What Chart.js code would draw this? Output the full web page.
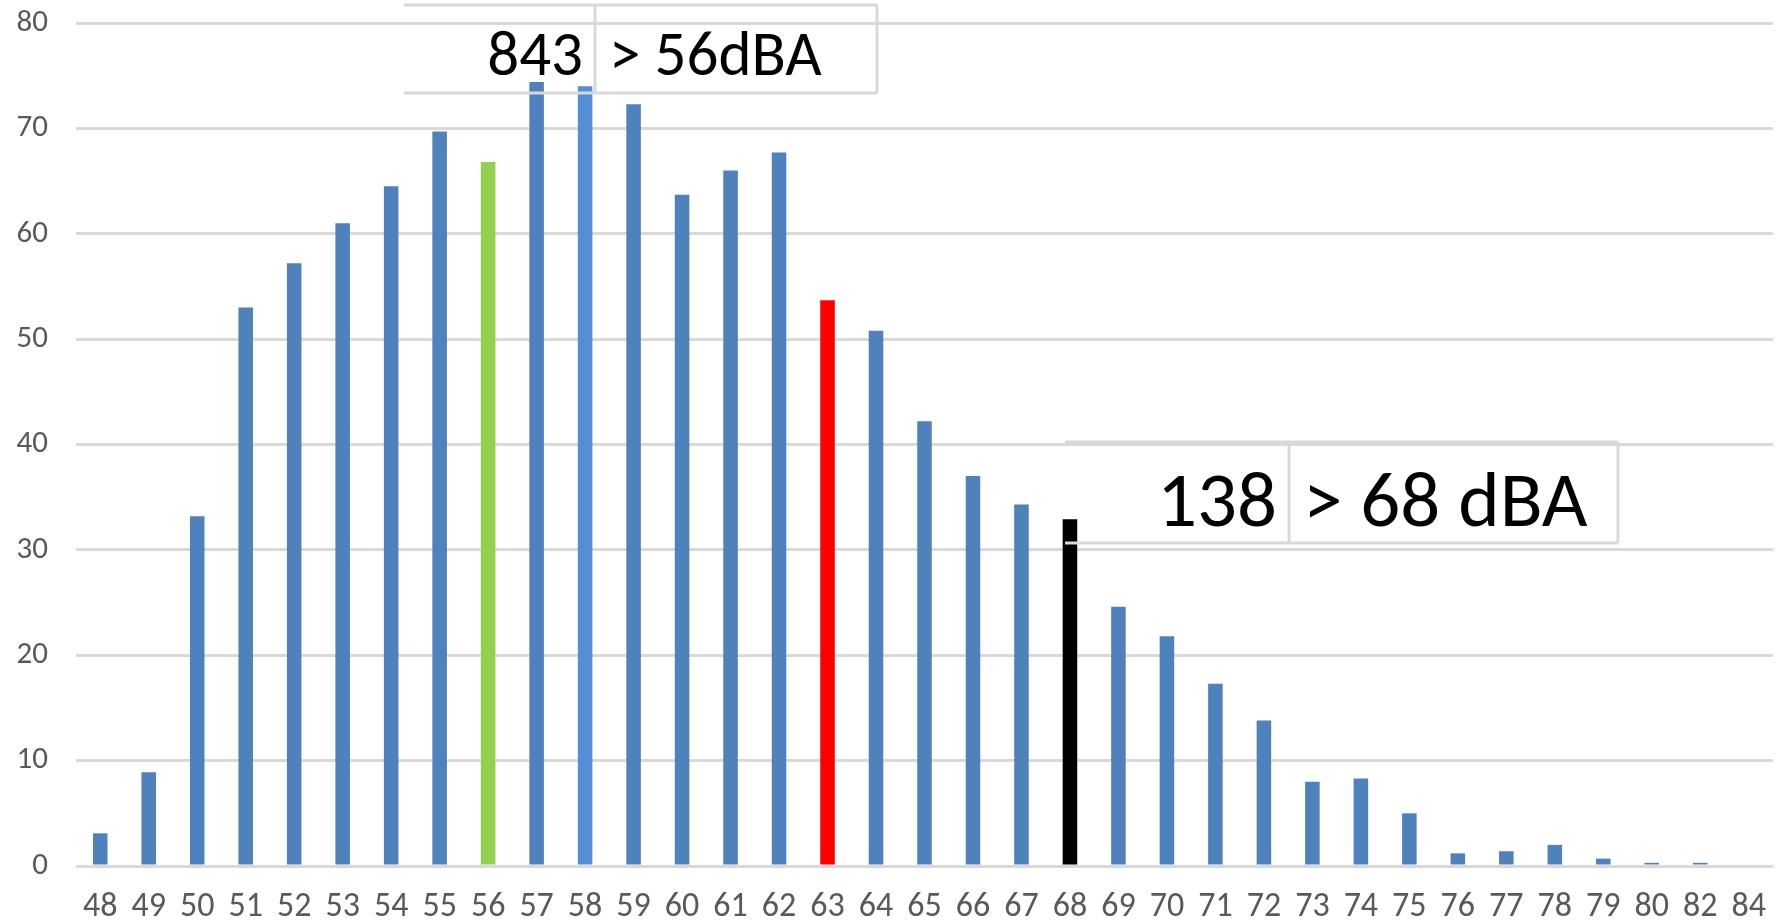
<!DOCTYPE html>
<html>
<head>
<meta charset="utf-8">
<script src="https://cdn.jsdelivr.net/npm/chart.js@4/dist/chart.umd.min.js"></script>
<style>
  html, body { margin: 0; padding: 0; background: #fff; }
  #wrap { width: 1783px; height: 922px; position: relative; }
</style>
</head>
<body>
<div id="wrap"><canvas id="grafico"></canvas></div>
<script>
// Níveis sonoros (dBA) e contagens
const categorias = ['48','49','50','51','52','53','54','55','56','57','58','59','60','61','62','63','64','65','66','67','68','69','70','71','72','73','74','75','76','77','78','79','80','82','84'];
const contagens = [3.1, 8.9, 33.2, 53.0, 57.2, 61.0, 64.5, 69.7, 66.8, 74.4, 74.0, 72.3, 63.7, 66.0, 67.7, 53.7, 50.8, 42.2, 37.0, 34.3, 32.9, 24.6, 21.8, 17.3, 13.8, 8.0, 8.3, 5.0, 1.2, 1.4, 2.0, 0.7, 0.3, 0.3, 0];
const ticksY = [0, 10, 20, 30, 40, 50, 60, 70, 80];

// Caixas de texto (total acima do limite)
const totais = ['843', '138'];
const limites = ['> 56dBA', '> 68 dBA'];

// Cores das barras em destaque
const corBase = '#4F81BD';
const destaques = { '56': '#92D050', '58': '#558ED5', '63': '#FF0000', '68': '#000000' };

const fonteTexto = '"Carlito", "Open Sans", sans-serif';

// Desenha as duas caixas tipo célula por cima do gráfico
const caixasPlugin = {
  id: 'caixas',
  afterDraw(chart) {
    const ctx = chart.ctx;
    const geo = [
      { l: 404, d: 595, r: 877, t: 5, b: 93, base: 75, size: 63, gap: 14 },
      { l: 1065, d: 1289, r: 1618, t: 442, b: 543, base: 526, size: 79, gap: 14 }
    ];
    ctx.save();
    geo.forEach((g, i) => {
      ctx.strokeStyle = '#D9D9D9';
      ctx.lineWidth = 3;
      ctx.beginPath();
      ctx.moveTo(g.l, g.t); ctx.lineTo(g.r, g.t);
      ctx.moveTo(g.l, g.b); ctx.lineTo(g.r, g.b);
      ctx.moveTo(g.d, g.t); ctx.lineTo(g.d, g.b);
      ctx.moveTo(g.r, g.t); ctx.lineTo(g.r, g.b);
      ctx.stroke();

      ctx.fillStyle = '#000';
      ctx.font = g.size + 'px ' + fonteTexto;
      ctx.textBaseline = 'alphabetic';
      ctx.textAlign = 'right';
      ctx.fillText(totais[i], g.d - 12, g.base);
      ctx.textAlign = 'left';
      ctx.fillText(limites[i], g.d + g.gap, g.base);
    });
    ctx.restore();
  }
};

const canvas = document.getElementById('grafico');
canvas.width = 1783;
canvas.height = 922;

new Chart(canvas.getContext('2d'), {
  type: 'bar',
  data: {
    labels: categorias,
    datasets: [{
      data: contagens,
      backgroundColor: categorias.map(c => destaques[c] || corBase),
      barPercentage: 0.3,
      categoryPercentage: 1.0
    }]
  },
  options: {
    responsive: false,
    animation: false,
    devicePixelRatio: 1,
    layout: { padding: { top: 23, right: 10, left: 0, bottom: 0 } },
    plugins: {
      legend: { display: false },
      tooltip: { enabled: false }
    },
    scales: {
      x: {
        grid: { display: false, drawTicks: false },
        border: { display: false },
        ticks: {
          color: '#595959',
          font: { family: fonteTexto, size: 34 },
          padding: 21,
          maxRotation: 0,
          autoSkip: false
        },
        afterFit(scale) {
          scale.height = 56;
          scale.paddingLeft = 0; scale.paddingRight = 0;
          scale.paddingTop = 0; scale.paddingBottom = 0;
        }
      },
      y: {
        min: 0,
        max: 80,
        afterBuildTicks(scale) { scale.ticks = ticksY.map(v => ({ value: v })); },
        grid: { color: '#D9D9D9', lineWidth: 3, drawTicks: false },
        border: { display: false },
        ticks: {
          color: '#595959',
          font: { family: fonteTexto, size: 31 },
          padding: 28
        },
        afterFit(scale) {
          scale.width = 76;
          scale.paddingTop = 0; scale.paddingBottom = 0;
          scale.paddingLeft = 0; scale.paddingRight = 0;
        }
      }
    }
  },
  plugins: [caixasPlugin]
});
</script>
</body>
</html>
